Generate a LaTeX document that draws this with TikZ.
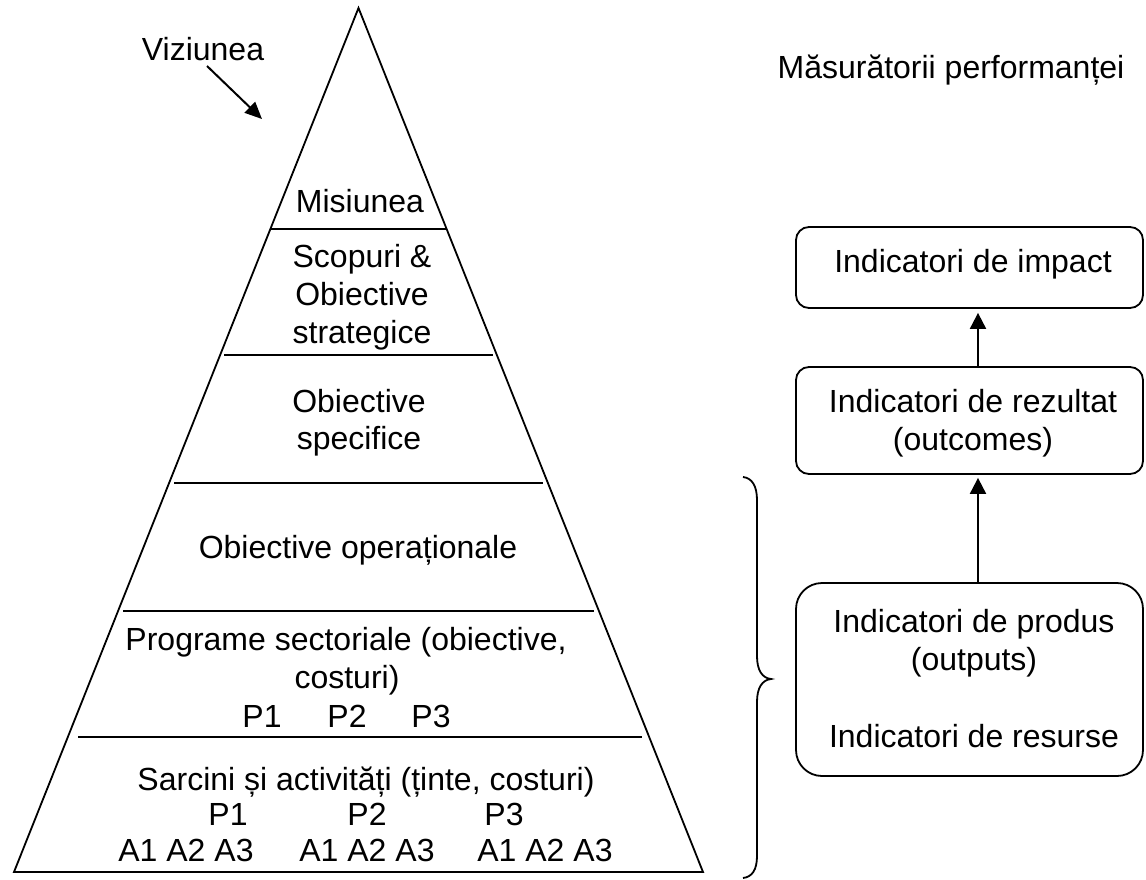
\documentclass[tikz,border=0pt]{standalone}
\usepackage{fontspec}
\setmainfont{Liberation Sans}
\usetikzlibrary{arrows.meta}
\begin{document}
\begin{tikzpicture}[x=1pt,y=-1pt,
  txt/.style={font=\fontsize{32}{37}\selectfont, inner sep=0pt, anchor=base},
  ln/.style={line width=1.8pt},
  ibox/.style={draw, line width=1.8pt, rounded corners=13pt, minimum width=347pt, inner sep=0pt},
  arr/.style={line width=2pt, -{Triangle[width=16pt,length=16pt]}},
  varr/.style={line width=2pt, -{Triangle[width=15pt,length=17pt]}}]
\useasboundingbox (0,0) rectangle (1146,880);
% pyramid
\coordinate (apex) at (358.5,8);
\coordinate (bl) at (14,872);
\coordinate (br) at (703,872);
\draw[ln, line join=miter] (apex) -- (bl) -- (br) -- cycle;
\coordinate (l1a) at (271,229); \coordinate (l1b) at (446,229);
\coordinate (l2a) at (224,355); \coordinate (l2b) at (493,355);
\coordinate (l3a) at (174,483); \coordinate (l3b) at (543,483);
\coordinate (l4a) at (123,611); \coordinate (l4b) at (594,611);
\coordinate (l5a) at (78,737);  \coordinate (l5b) at (642,737);
\draw[ln] (l1a) -- (l1b);
\draw[ln] (l2a) -- (l2b);
\draw[ln] (l3a) -- (l3b);
\draw[ln] (l4a) -- (l4b);
\draw[ln] (l5a) -- (l5b);
% texts in pyramid
\node[txt] (viz) at (203,61) {Viziunea};
\coordinate (vs) at (207,66);
\coordinate (ve) at (262,119);
\draw[varr] (vs) -- (ve);
\node[txt] (mis) at (360,212) {Misiunea};
\node[txt] (sc1) at (362,267) {Scopuri \&};
\node[txt] (sc2) at (362,305) {Obiective};
\node[txt] (sc3) at (362,343) {strategice};
\node[txt] (os1) at (359,412) {Obiective};
\node[txt] (os2) at (359,449) {specifice};
\node[txt] (oo) at (358,558) {Obiective operaționale};
\node[txt] (ps1) at (346,650) {Programe sectoriale (obiective,};
\node[txt] (ps2) at (347,688) {costuri)};
\node[txt] (pp1) at (262,727) {P1};
\node[txt] (pp2) at (347,727) {P2};
\node[txt] (pp3) at (431,727) {P3};
\node[txt] (sa) at (366,790) {Sarcini și activități (ținte, costuri)};
\node[txt] (sp1) at (228,825) {P1};
\node[txt] (sp2) at (367,825) {P2};
\node[txt] (sp3) at (504,825) {P3};
\node[txt] (ag1) at (186,861) {A1 A2 A3};
\node[txt] (ag2) at (367,861) {A1 A2 A3};
\node[txt] (ag3) at (545,861) {A1 A2 A3};
% right side
\node[txt] (mas) at (951,79) {Măsurătorii performanței};
\node[ibox, minimum height=81pt] (b1) at (969.5,267.5) {};
\node[ibox, minimum height=107pt] (b2) at (969.5,420.5) {};
\node[ibox, minimum height=193pt, rounded corners=26pt] (b3) at (969.5,679.5) {};
\node[txt] (t1) at (973,272) {Indicatori de impact};
\node[txt] (t2a) at (973,412) {Indicatori de rezultat};
\node[txt] (t2b) at (973,450) {(outcomes)};
\node[txt] (t3a) at (974,632) {Indicatori de produs};
\node[txt] (t3b) at (974,670) {(outputs)};
\node[txt] (t3c) at (974,747) {Indicatori de resurse};
\coordinate (ax) at (978,0);
\draw[arr] (b2.north -| ax) -- ([yshift=-4pt]b1.south -| ax);
\draw[arr] (b3.north -| ax) -- ([yshift=-3pt]b2.south -| ax);
% brace
\draw[ln] (743,477) .. controls (752,478) and (757,486) .. (757,500) -- (757,656)
  .. controls (757,670) and (762,678) .. (771,679)
  .. controls (762,680) and (757,688) .. (757,702) -- (757,856)
  .. controls (757,870) and (752,877) .. (743,878);
\end{tikzpicture}
\end{document}
